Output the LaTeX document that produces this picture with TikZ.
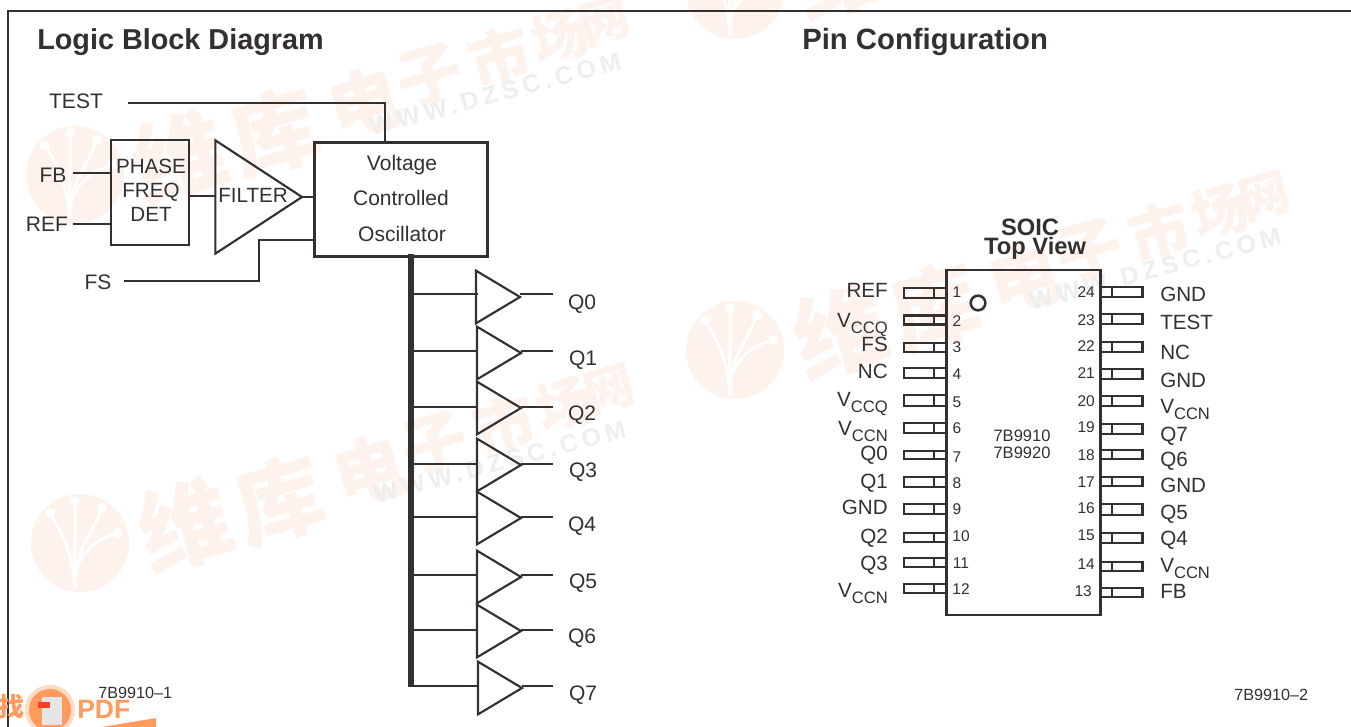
\documentclass[tikz,border=0pt]{standalone}
\usepackage{fontspec}
\setmainfont{Liberation Sans}
\newfontfamily\cjkwm{Noto Sans CJK SC}
\usetikzlibrary{shapes.geometric}
\definecolor{ink}{HTML}{33302F}
\definecolor{wmo}{HTML}{FDF2EC}
\definecolor{wmg}{HTML}{EEEEEE}
\definecolor{pdfo}{HTML}{FF9B5E}
\newcommand\pxf[1]{\fontsize{\the\dimexpr #1pt*3/4\relax}{\the\dimexpr #1pt*3/4\relax}\selectfont}
\newcommand\vsub[1]{V\raisebox{-0.3em}{\pxf{16.6}#1}}
\tikzset{
  x=0.75pt,y=-0.75pt,
  wire/.style={draw=ink,line width=1.9pt},
  thinw/.style={draw=ink,line width=1.9pt},
  blockbox/.style={draw=ink,line width=2pt,fill=none,rectangle,inner sep=0pt,outer sep=0pt},
  tri/.style={draw=ink,line width=1.6pt,isosceles triangle,isosceles triangle stretches,inner sep=0pt,outer sep=0pt,anchor=apex},
  pinbox/.style={draw=ink,line width=2.2pt,rectangle,inner sep=0pt,outer sep=0pt,minimum width=31.5pt},
  lab/.style={text=ink,font=\pxf{21},inner sep=0pt},
  bl/.style={lab,anchor=base},
  ll/.style={lab,anchor=base east,font=\pxf{20.6}},
  rl/.style={lab,anchor=base west,font=\pxf{20.6}},
  num/.style={text=ink,font=\pxf{15.5},inner sep=0pt},
  figcap/.style={text=ink,font=\pxf{16.2},inner sep=0pt},
  title/.style={text=ink,font=\bfseries\pxf{28.8},inner sep=0pt,anchor=base west},
}
\newcommand\wmark[3]{%
\begin{scope}[shift={(#1,#2)},name prefix=#3-]
  \fill[wmo] (0,0) circle (49);
  \foreach \a/\b in {-30/-30,-5/-42,22/-35,38/-10}{\draw[white,line width=2.2pt] (-5,46) .. controls (-8,10) and (\a*0.5,-5) .. (\a,\b); \fill[white] (\a,\b) circle (5);}
  \foreach \n/\c/\ox/\oy/\s in {a/维/105/-18/92,b/库/200/-43/88,c/电/290/-73/72,d/子/355/-98/66,e/市/425/-118/62,f/场/485/-138/56,g/网/530/-153/50}{
    \node[text=wmo,inner sep=0pt,rotate=16,font={\cjkwm\bfseries\pxf{\s}}] (\n) at (\ox,\oy) {\c};}
  \node[text=wmg,inner sep=0pt,rotate=15,font={\bfseries\addfontfeature{LetterSpace=18}\pxf{25}}] (w) at (420,-81) {WWW.DZSC.COM};
\end{scope}}
\begin{document}
\begin{tikzpicture}
\useasboundingbox (0,0) rectangle (1351,727);
\clip (0,0) rectangle (1351,727);
\fill[white] (0,0) rectangle (1351,727);
% watermarks
\wmark{75}{175}{wa}
\wmark{80}{543}{wb}
\wmark{735}{350}{wc}
\wmark{735}{-10}{wd}
% frame
\coordinate (fa) at (8,727);
\coordinate (fb) at (8,11);
\coordinate (fc) at (1351,11);
\draw[line width=1.6pt,draw=ink] (fa) -- (fb) -- (fc);
% titles
\node[title] (t1) at (37,50) {Logic Block Diagram};
\node[title,font=\bfseries\pxf{29.3}] (t2) at (802,50) {Pin Configuration};
% logic blocks
\node[blockbox,minimum width=58.5pt,minimum height=78.75pt] (pfd) at (150,192.5) {};
\node[blockbox,minimum width=129.75pt,minimum height=85pt] (vco) at (401,199.5) {};
\node[tri,minimum height=65pt,minimum width=85pt] (flt) at (302,197) {};
\node[bl,font=\pxf{20.6}] (l1) at (151,173.5) {PHASE};
\node[bl,font=\pxf{20.6}] (l2) at (151,197.5) {FREQ};
\node[bl,font=\pxf{20.6}] (l3) at (151,221.5) {DET};
\node[bl,font=\pxf{20.6}] (l4) at (253,202.5) {FILTER};
\node[bl] (l5) at (402,171) {Voltage};
\node[bl] (l6) at (401,205) {Controlled};
\node[bl] (l7) at (402,241) {Oscillator};
\node[bl] (ltest) at (76,109) {TEST};
\node[bl] (lfb) at (53,183) {FB};
\node[bl] (lref) at (47,231) {REF};
\node[bl] (lfs) at (98,289) {FS};
\coordinate (ctest) at (128,103);
\coordinate (vtest) at (385,142);
\coordinate (cfb) at (73,173);
\coordinate (pfb) at (111,173);
\coordinate (cref) at (73,224);
\coordinate (pref) at (111,224);
\coordinate (pout) at (189,196);
\coordinate (fin) at (215,196);
\coordinate (vin) at (315,197);
\coordinate (cfs) at (124,281);
\coordinate (fsk) at (259,240);
\coordinate (vfs) at (315,240);
\draw[wire] (ctest) -| (vtest);
\draw[wire] (cfb) -- (pfb);
\draw[wire] (cref) -- (pref);
\draw[wire] (pout) -- (fin);
\draw[wire] (flt.apex) -- (vin);
\draw[wire] (cfs) -| (fsk) -- (vfs);
% bus
\coordinate (bus0) at (411,254);
\coordinate (bus1) at (411,687);
\draw[draw=ink,line width=4.6pt] (bus0) -- (bus1);
\foreach \i/\ax/\ay/\sy/\lx/\ly in {0/520/297/294/582/309,1/521/353/351/583/365,2/521/408/407/582/420,3/521/465/464/583/477,4/521/518/517/582/531,5/521/577/575/583/588,6/521/631/630/582/643,7/522/688/686/583/700}{
  \node[tri,minimum height=33pt,minimum width=39.5pt] (b\i) at (\ax,\ay) {};
  \coordinate (in\i) at (478,\sy);
  \coordinate (out\i) at (553,\sy);
  \draw[wire] (bus0 |- in\i) -- (in\i);
  \draw[wire] (\ax,\sy) -- (out\i);
  \node[bl] (q\i) at (\lx,\ly) {Q\i};
}
\node[figcap,anchor=base west] (c1) at (98,698) {7B9910–1};
\node[figcap,anchor=base west] (c2) at (1234,700) {7B9910–2};
% SOIC
\node[text=ink,font=\bfseries\pxf{23.7},inner sep=0pt] (s1) at (1030,227) {SOIC};
\node[text=ink,font=\bfseries\pxf{23.7},inner sep=0pt] (s2) at (1035,248) {Top View};
\node[blockbox,minimum width=115.5pt,minimum height=258.75pt] (ic) at (1023.5,442.5) {};
\node[draw=ink,line width=1.9pt,circle,minimum size=11pt,inner sep=0pt] (dot) at (978,303) {};
\node[num,font=\pxf{16.5}] (m1) at (1022,436) {7B9910};
\node[num,font=\pxf{16.5}] (m2) at (1022,453) {7B9920};
\coordinate (lt) at (934,0);
\coordinate (rt) at (1112,0);
% left pins: name, centre y, height, label base y, number x, number y, label
\foreach \i/\cy/\h/\ly/\nx/\ny/\txt in {
 1/293/10/297/957/292/REF,
 2/320/9/327/957/321/\vsub{CCQ},
 3/347.5/9/351/957/347/FS,
 4/373/10/378/957/374/NC,
 5/400.5/11/406/957/402/\vsub{CCQ},
 6/428/10/435/957/428/\vsub{CCN},
 7/455/8/460/957/457/Q0,
 8/482/10/488/957/483/Q1,
 9/509/10/514/957/509/GND,
 10/537.5/9/543/961/536/Q2,
 11/562.5/9/570/961/563/Q3,
 12/588.5/9/597/961/589/\vsub{CCN}}{
  \node[pinbox,minimum height=\h*0.75pt] (pl\i) at (925,\cy) {};
  \draw[thinw] (lt |- pl\i.north) -- (lt |- pl\i.south);
  \node[ll] (tl\i) at (888,\ly) {\txt};
  \node[num] (nl\i) at (\nx,\ny) {\i};
}
% right pins
\foreach \i/\cy/\h/\ly/\nx/\ny/\txt in {
 24/292/10/301/1095/292/GND,
 23/319/10/329/1095/320/TEST,
 22/347/10/359/1095/346/NC,
 21/374/10/387/1095/373/GND,
 20/401/10/413/1095/401/\vsub{CCN},
 19/429/10/441/1095/427/Q7,
 18/454.5/9/466/1095/455/Q6,
 17/481.5/9/492/1095/482/GND,
 16/509.5/11/519/1095/508/Q5,
 15/538/10/545/1095/535/Q4,
 14/566.5/9/572/1095/564/\vsub{CCN},
 13/592.5/9/598/1092/591/FB}{
  \node[pinbox,minimum height=\h*0.75pt] (pr\i) at (1121.5,\cy) {};
  \draw[thinw] (rt |- pr\i.north) -- (rt |- pr\i.south);
  \node[rl] (tr\i) at (1160,\ly) {\txt};
  \node[num,anchor=east] (nr\i) at (\nx,\ny) {\i};
}
% bottom-left badge
\node[text=pdfo,inner sep=0pt,font={\cjkwm\bfseries\pxf{26}}] (zh) at (11,707) {找};
\fill[pdfo!70] (50,710) circle (25);
\fill[white,opacity=.5] (50,710) circle (25);
\fill[pdfo] (50,710) circle (21);
\fill[white!90!black] (42,697) rectangle (62,725);
\fill[red!60!pdfo] (38,702) rectangle (50,708);
\node[text=pdfo,inner sep=0pt,anchor=base west,font=\bfseries\pxf{26.5}] (pdf) at (77,718) {PDF};
\fill[pdfo] (102,727) -- (156,718) -- (156,727) -- cycle;
\end{tikzpicture}
\end{document}
